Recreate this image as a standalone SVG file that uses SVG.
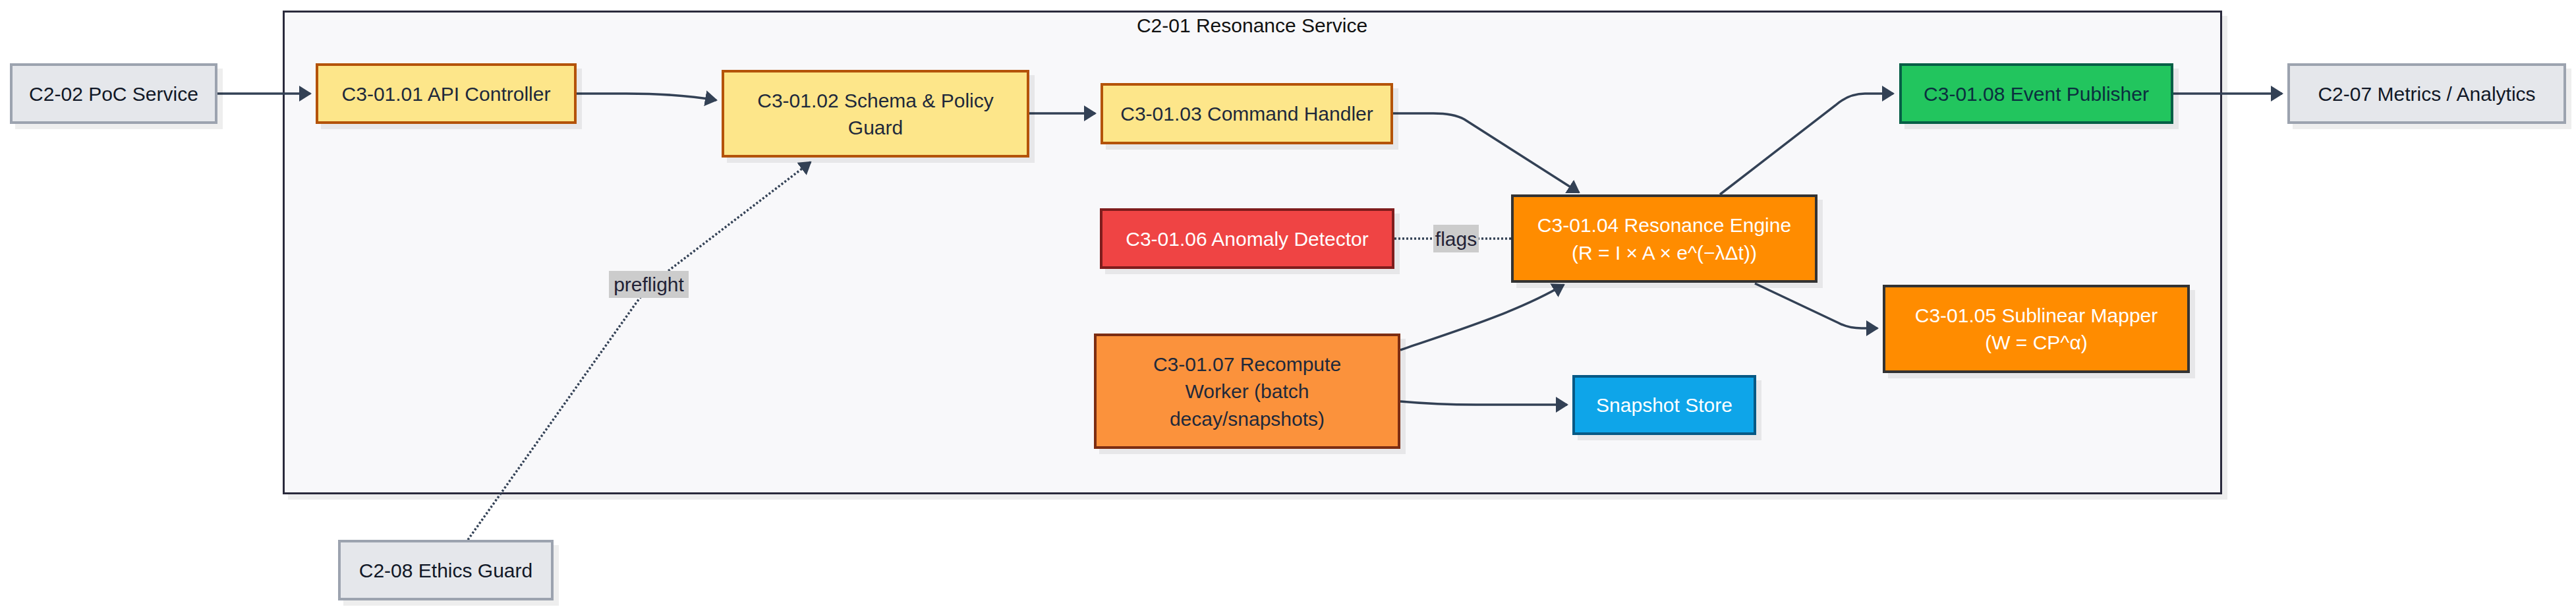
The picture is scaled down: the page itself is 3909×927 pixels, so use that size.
<svg xmlns="http://www.w3.org/2000/svg" width="3909" height="927" viewBox="0 0 3909 927">
<style>
text{font-family:"Liberation Sans",Arial,sans-serif;font-size:30px;text-anchor:middle}
.sh{fill:#000;fill-opacity:0.065}
.n{stroke-width:4}
.ext{fill:#e5e7eb;stroke:#9ca3af}
.ylw{fill:#fde68a;stroke:#b45309}
.grn{fill:#22c55e;stroke:#065f46}
.red{fill:#ef4444;stroke:#7f1d1d}
.org{fill:#ff8c00;stroke:#333333}
.rcp{fill:#fb923c;stroke:#7c2d12}
.blu{fill:#0ea5e9;stroke:#075985}
.td{fill:#1e293b}
.tx{fill:#111827}
.tw{fill:#ffffff}
.tg{fill:#0b2f3f}
.e{fill:none;stroke:#334155;stroke-width:3.5}
.d{fill:none;stroke:#334155;stroke-width:3.5;stroke-dasharray:3 3}
.lb{fill:#cccccc}
.lt{fill:#222236}
</style>
<defs>
<marker id="arr" viewBox="0 0 19 24" refX="17" refY="12" markerWidth="19" markerHeight="24" markerUnits="userSpaceOnUse" orient="auto">
<path d="M0,0 L19,12 L0,24 z" fill="#334155"/>
</marker>
</defs>

<g id="cluster-c2-01">
<rect x="437" y="24" width="2943" height="734" class="sh"/>
<rect x="430.5" y="17.5" width="2940" height="731" fill="#f8f8fa" stroke="#2a2a3c" stroke-width="3"/>
<text x="1900" y="38" dy="0.35em" fill="#111111">C2-01 Resonance Service</text>
</g>

<g id="edges">
<path class="e" d="M330,142 L471,142" marker-end="url(#arr)"/>
<path class="e" d="M875,142 L950,142 C1000,142 1040,144 1087,152" marker-end="url(#arr)"/>
<path class="e" d="M1562,172 L1662,172" marker-end="url(#arr)"/>
<path class="e" d="M2114,172 L2175,172 Q2206,172 2222,181 L2396,292" marker-end="url(#arr)"/>
<path class="e" d="M2610,295 L2785,160 Q2805,142 2830,142 L2873,142" marker-end="url(#arr)"/>
<path class="e" d="M3298,142 L3463,142" marker-end="url(#arr)"/>
<path class="e" d="M2663,430 L2790,490 Q2805,498 2825,498 L2849,498" marker-end="url(#arr)"/>
<path class="e" d="M2125,531 C2200,505 2300,475 2373,432" marker-end="url(#arr)"/>
<path class="e" d="M2125,609 Q2180,614 2240,614 L2378,614" marker-end="url(#arr)"/>
<path class="d" d="M2116,362 L2293,362"/>
<path class="d" d="M710,819 L965,460 Q984,434 1010,414 L1230,246" marker-end="url(#arr)"/>
<g id="label-preflight">
<rect x="924" y="411" width="121" height="41" class="lb"/>
<text x="984.5" y="431.5" dy="0.35em" class="lt">preflight</text>
</g>
<g id="label-flags">
<rect x="2175" y="341" width="69" height="42" class="lb"/>
<text x="2209.5" y="362" dy="0.35em" class="lt">flags</text>
</g>
</g>

<g id="node-c2-02">
<rect x="23" y="104" width="315" height="92" class="sh"/>
<rect x="17" y="98" width="311" height="88" class="n ext"/>
<text x="172.5" y="142" dy="0.35em" class="tx">C2-02 PoC Service</text>
</g>

<g id="node-c3-01-01">
<rect x="487" y="104" width="396" height="92" class="sh"/>
<rect x="481" y="98" width="392" height="88" class="n ylw"/>
<text x="677" y="142" dy="0.35em" class="td">C3-01.01 API Controller</text>
</g>

<g id="node-c3-01-02">
<rect x="1103" y="114" width="467" height="133" class="sh"/>
<rect x="1097" y="108" width="463" height="129" class="n ylw"/>
<text x="1328.5" y="152" dy="0.35em" class="td">C3-01.02 Schema &amp; Policy</text>
<text x="1328.5" y="193" dy="0.35em" class="td">Guard</text>
</g>

<g id="node-c3-01-03">
<rect x="1678" y="134" width="444" height="93" class="sh"/>
<rect x="1672" y="128" width="440" height="89" class="n ylw"/>
<text x="1892" y="172.5" dy="0.35em" class="td">C3-01.03 Command Handler</text>
</g>

<g id="node-c3-01-04">
<rect x="2301" y="303" width="465" height="134" class="sh"/>
<rect x="2295" y="297" width="461" height="130" class="n org"/>
<text x="2525.5" y="341" dy="0.35em" class="tw">C3-01.04 Resonance Engine</text>
<text x="2525.5" y="383" dy="0.35em" class="tw">(R = I × A × e^(−λΔt))</text>
</g>

<g id="node-c3-01-05">
<rect x="2865" y="440" width="466" height="134" class="sh"/>
<rect x="2859" y="434" width="462" height="130" class="n org"/>
<text x="3090" y="478" dy="0.35em" class="tw">C3-01.05 Sublinear Mapper</text>
<text x="3090" y="519" dy="0.35em" class="tw">(W = CP^α)</text>
</g>

<g id="node-c3-01-06">
<rect x="1677" y="324" width="447" height="92" class="sh"/>
<rect x="1671" y="318" width="443" height="88" class="n red"/>
<text x="1892.5" y="362" dy="0.35em" class="tw">C3-01.06 Anomaly Detector</text>
</g>

<g id="node-c3-01-07">
<rect x="1668" y="514" width="465" height="175" class="sh"/>
<rect x="1662" y="508" width="461" height="171" class="n rcp"/>
<text x="1892.5" y="552" dy="0.35em" class="td">C3-01.07 Recompute</text>
<text x="1892.5" y="593.5" dy="0.35em" class="td">Worker (batch</text>
<text x="1892.5" y="635" dy="0.35em" class="td">decay/snapshots)</text>
</g>

<g id="node-snapshot-store">
<rect x="2394" y="577" width="279" height="91" class="sh"/>
<rect x="2388" y="571" width="275" height="87" class="n blu"/>
<text x="2525.5" y="614.5" dy="0.35em" class="tw">Snapshot Store</text>
</g>

<g id="node-c3-01-08">
<rect x="2890" y="104" width="416" height="92" class="sh"/>
<rect x="2884" y="98" width="412" height="88" class="n grn"/>
<text x="3090" y="142" dy="0.35em" class="tg">C3-01.08 Event Publisher</text>
</g>

<g id="node-c2-07">
<rect x="3479" y="104" width="423" height="92" class="sh"/>
<rect x="3473" y="98" width="419" height="88" class="n ext"/>
<text x="3682.5" y="142" dy="0.35em" class="tx">C2-07 Metrics / Analytics</text>
</g>

<g id="node-c2-08">
<rect x="521" y="827" width="327" height="92" class="sh"/>
<rect x="515" y="821" width="323" height="88" class="n ext"/>
<text x="676.5" y="865" dy="0.35em" class="tx">C2-08 Ethics Guard</text>
</g>
</svg>
